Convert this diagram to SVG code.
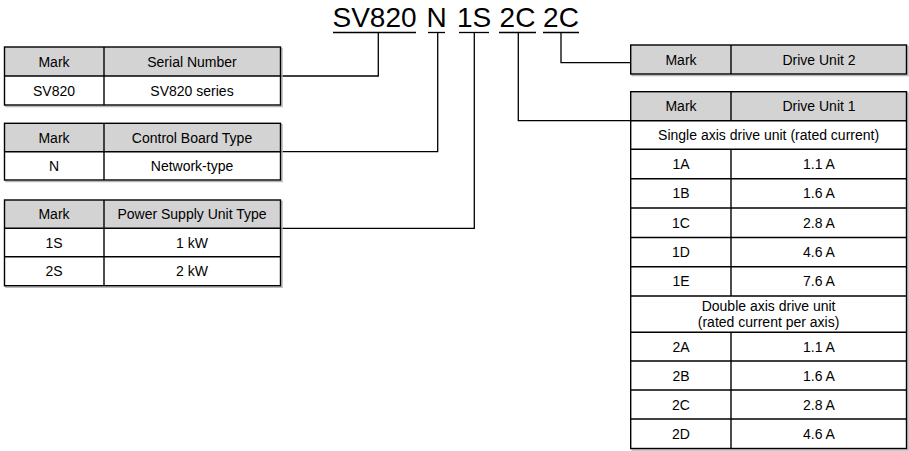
<svg xmlns="http://www.w3.org/2000/svg" width="909" height="451" viewBox="0 0 909 451">
<style>
text{font-family:"Liberation Sans",Arial,sans-serif;fill:#000}
.t{font-size:14px;text-anchor:middle}
.title{font-size:28px;text-anchor:middle}
.hd{fill:#d3d3d3}
.bg{fill:#fff}
.sh{fill:none;stroke:#b8b8b8;stroke-width:1.5}
.ln{fill:none;stroke:#000;stroke-width:1.4}
.cn{fill:none;stroke:#000;stroke-width:1.3}
</style>
<rect width="909" height="451" fill="#fff"/>
<g id="title">
<text class="title" x="374.5" y="27">SV820</text>
<text class="title" x="436.5" y="27">N</text>
<text class="title" x="474" y="27">1S</text>
<text class="title" x="517.5" y="27">2C</text>
<text class="title" x="561" y="27">2C</text>
<g class="cn">
<line x1="333" y1="32.5" x2="416" y2="32.5"/>
<line x1="428" y1="32.5" x2="445" y2="32.5"/>
<line x1="459" y1="32.5" x2="489" y2="32.5"/>
<line x1="499" y1="32.5" x2="536" y2="32.5"/>
<line x1="543" y1="32.5" x2="579" y2="32.5"/>
</g>
</g>
<g id="connectors" class="cn">
<polyline points="280.5,76 378.3,76 378.3,32.5"/>
<polyline points="280.5,151.7 437.7,151.7 437.7,32.5"/>
<polyline points="280.5,228.3 474.3,228.3 474.3,32.5"/>
<polyline points="518.3,32.5 518.3,120.7 630.7,120.7"/>
<polyline points="561,32.5 561,62.7 630.7,62.7"/>
</g>
<g id="serial">
<rect class="sh" x="6" y="48.5" width="276" height="58"/>
<rect class="hd" x="4.5" y="47" width="276" height="29"/>
<rect class="bg" x="4.5" y="76" width="276" height="29"/>
<g class="ln"><rect x="4.5" y="47" width="276" height="58"/><line x1="4.5" y1="76" x2="280.5" y2="76"/><line x1="104" y1="47" x2="104" y2="105"/></g>
<text class="t" x="54" y="66.5">Mark</text>
<text class="t" x="192" y="66.5">Serial Number</text>
<text class="t" x="54" y="95.5">SV820</text>
<text class="t" x="192" y="95.5">SV820 series</text>
</g>
<g id="control">
<rect class="sh" x="6" y="124.8" width="276" height="56.7"/>
<rect class="hd" x="4.5" y="123.3" width="276" height="28.4"/>
<rect class="bg" x="4.5" y="151.7" width="276" height="28.3"/>
<g class="ln"><rect x="4.5" y="123.3" width="276" height="56.7"/><line x1="4.5" y1="151.7" x2="280.5" y2="151.7"/><line x1="104" y1="123.3" x2="104" y2="180"/></g>
<text class="t" x="54" y="142.5">Mark</text>
<text class="t" x="192" y="142.5">Control Board Type</text>
<text class="t" x="54" y="170.8">N</text>
<text class="t" x="192" y="170.8">Network-type</text>
</g>
<g id="power">
<rect class="sh" x="6" y="201.5" width="276" height="85.7"/>
<rect class="hd" x="4.5" y="200" width="276" height="28.3"/>
<rect class="bg" x="4.5" y="228.3" width="276" height="57.4"/>
<g class="ln"><rect x="4.5" y="200" width="276" height="85.7"/><line x1="4.5" y1="228.3" x2="280.5" y2="228.3"/><line x1="4.5" y1="256.7" x2="280.5" y2="256.7"/><line x1="104" y1="200" x2="104" y2="285.7"/></g>
<text class="t" x="54" y="219">Mark</text>
<text class="t" x="192" y="219">Power Supply Unit Type</text>
<text class="t" x="54" y="247.5">1S</text>
<text class="t" x="192" y="247.5">1 kW</text>
<text class="t" x="54" y="276">2S</text>
<text class="t" x="192" y="276">2 kW</text>
</g>
<g id="drive2">
<rect class="sh" x="632.2" y="46.5" width="275.8" height="29"/>
<rect class="hd" x="630.7" y="45" width="275.8" height="29"/>
<g class="ln"><rect x="630.7" y="45" width="275.8" height="29"/><line x1="731" y1="45" x2="731" y2="74"/></g>
<text class="t" x="681" y="64.5">Mark</text>
<text class="t" x="819" y="64.5">Drive Unit 2</text>
</g>
<g id="drive1">
<rect class="sh" x="632.2" y="93.2" width="275.8" height="356.8"/>
<rect class="hd" x="630.7" y="91.7" width="275.8" height="29"/>
<rect class="bg" x="630.7" y="120.7" width="275.8" height="327.8"/>
<g class="ln">
<rect x="630.7" y="91.7" width="275.8" height="356.8"/>
<line x1="630.7" y1="120.7" x2="906.5" y2="120.7"/>
<line x1="630.7" y1="149.3" x2="906.5" y2="149.3"/>
<line x1="630.7" y1="178.7" x2="906.5" y2="178.7"/>
<line x1="630.7" y1="208" x2="906.5" y2="208"/>
<line x1="630.7" y1="237.5" x2="906.5" y2="237.5"/>
<line x1="630.7" y1="266.8" x2="906.5" y2="266.8"/>
<line x1="630.7" y1="296" x2="906.5" y2="296"/>
<line x1="630.7" y1="332.3" x2="906.5" y2="332.3"/>
<line x1="630.7" y1="361" x2="906.5" y2="361"/>
<line x1="630.7" y1="390" x2="906.5" y2="390"/>
<line x1="630.7" y1="419" x2="906.5" y2="419"/>
<line x1="731" y1="91.7" x2="731" y2="120.7"/>
<line x1="731" y1="149.3" x2="731" y2="296"/>
<line x1="731" y1="332.3" x2="731" y2="448.5"/>
</g>
<text class="t" x="681" y="111">Mark</text>
<text class="t" x="819" y="111">Drive Unit 1</text>
<text class="t" x="768.6" y="139.8">Single axis drive unit (rated current)</text>
<text class="t" x="681" y="169">1A</text><text class="t" x="819" y="169">1.1 A</text>
<text class="t" x="681" y="198.3">1B</text><text class="t" x="819" y="198.3">1.6 A</text>
<text class="t" x="681" y="227.8">1C</text><text class="t" x="819" y="227.8">2.8 A</text>
<text class="t" x="681" y="257.1">1D</text><text class="t" x="819" y="257.1">4.6 A</text>
<text class="t" x="681" y="286.4">1E</text><text class="t" x="819" y="286.4">7.6 A</text>
<text class="t" x="768.6" y="311">Double axis drive unit</text>
<text class="t" x="768.6" y="327">(rated current per axis)</text>
<text class="t" x="681" y="351.6">2A</text><text class="t" x="819" y="351.6">1.1 A</text>
<text class="t" x="681" y="380.5">2B</text><text class="t" x="819" y="380.5">1.6 A</text>
<text class="t" x="681" y="409.5">2C</text><text class="t" x="819" y="409.5">2.8 A</text>
<text class="t" x="681" y="438.7">2D</text><text class="t" x="819" y="438.7">4.6 A</text>
</g>
</svg>
